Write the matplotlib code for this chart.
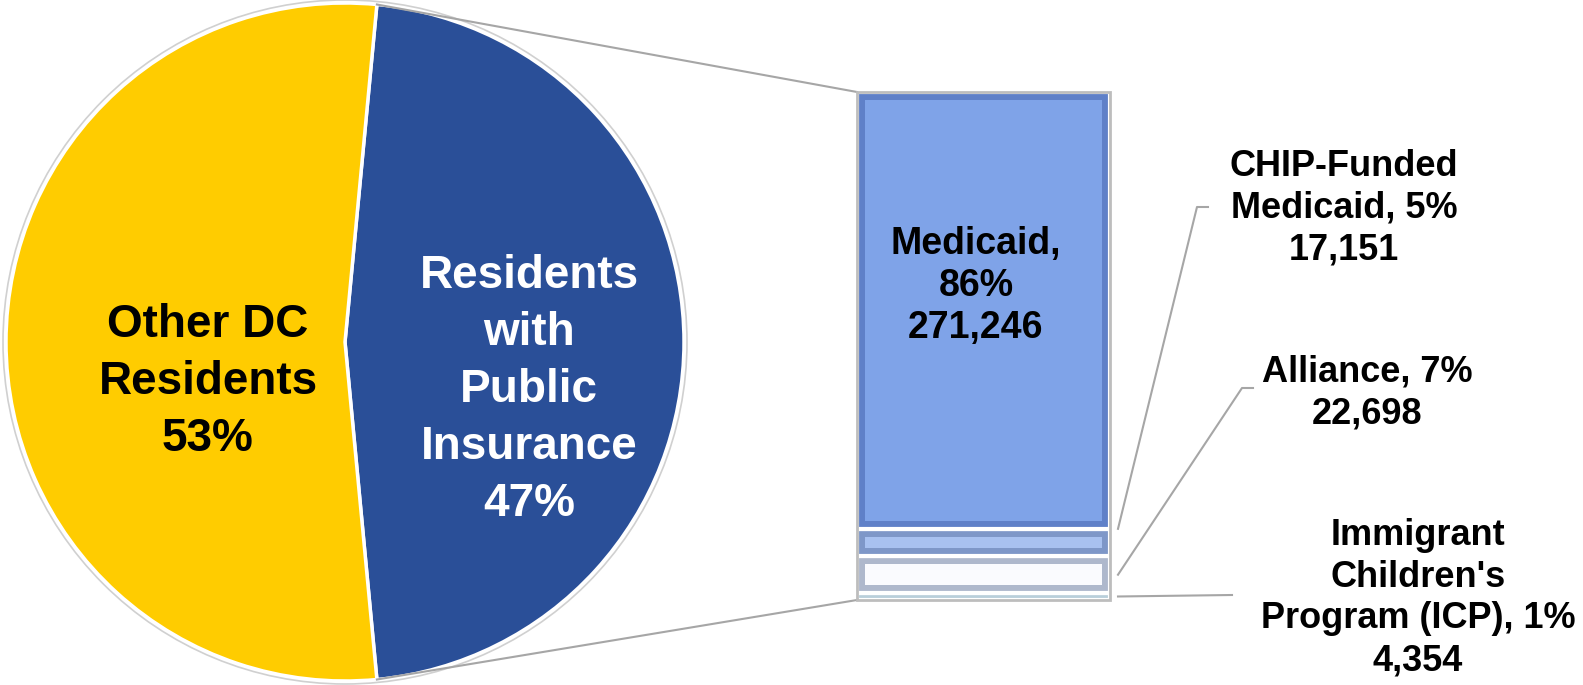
import matplotlib
matplotlib.use("Agg")
import matplotlib.pyplot as plt
from matplotlib.patches import Circle, Rectangle
import numpy as np

plt.rcParams['font.family'] = ['Liberation Sans', 'DejaVu Sans']
plt.rcParams['font.weight'] = 'bold'

#------ DATA ------#
pie_labels = ["Residents\nwith\nPublic\nInsurance\n47%", "Other DC\nResidents\n53%"]
pie_values = [47, 53]
pie_colors = ['#2A4F98', '#FFCC00']
pie_text_colors = ['white', 'black']

bar_names = ["Medicaid", "CHIP-Funded\nMedicaid", "Alliance", "Immigrant\nChildren's\nProgram (ICP)"]
bar_pcts = [86, 5, 7, 1]
bar_counts = [271246, 17151, 22698, 4354]
bar_colors = ['#7FA3E8', '#A8C1F0', '#FAFBFE', '#DDEFF6']
bevel_colors = ['#5F80C8', '#7E97C8', '#AEB8CC', '#B9CFDA']

W, H = 1583, 685
fig = plt.figure(figsize=(W / 100, H / 100), dpi=100)
ax = fig.add_axes([0, 0, 1, 1])

#------ PIE ------#
cx, cy, r = 345, 343, 339
half = 360 * pie_values[0] / sum(pie_values) / 2
wedges, _ = ax.pie(pie_values, colors=pie_colors, startangle=-half, center=(cx, cy), radius=r,
                   wedgeprops=dict(edgecolor='white', linewidth=2.5))
ax.add_patch(Circle((cx, cy), r + 3, fill=False, edgecolor='#D0D0D0', linewidth=1.2))
ax.set_xlim(0, W)
ax.set_ylim(0, H)
ax.set_aspect('auto')
ax.axis('off')

ax.text(529, H - 390, pie_labels[0], ha='center', va='center', fontsize=33, color=pie_text_colors[0],
        fontweight='bold', linespacing=1.38)
ax.text(208, H - 382, pie_labels[1], ha='center', va='center', fontsize=33, color=pie_text_colors[1],
        fontweight='bold', linespacing=1.38)

#------ BAR ------#
bx = fig.add_axes([857 / W, (H - 600) / H, 253 / W, 508 / H])
order = list(range(len(bar_counts)))[::-1]  # stack from bottom: ICP first
total = sum(bar_counts)
px_y = total / 508.0   # data units per pixel (vertical)
px_x = 1 / 253.0
bottom = 0
seg = {}
for i in order:
    bx.bar(0, bar_counts[i], bottom=bottom, width=1, color=bevel_colors[i], edgecolor='white', linewidth=3)
    ins = min(8, bar_counts[i] / px_y / 2 - 3)
    if ins > 1:
        bx.bar(0, bar_counts[i] - 2 * ins * px_y, bottom=bottom + ins * px_y, width=1 - 2 * 8 * px_x,
               color=bar_colors[i], edgecolor='none')
    seg[i] = (bottom, bottom + bar_counts[i])
    bottom += bar_counts[i]
bx.set_xlim(-0.5, 0.5)
bx.set_ylim(0, bottom)
bx.axis('off')
bx.add_patch(Rectangle((-0.5, 0), 1, bottom, fill=False, edgecolor='#BDBDBD', linewidth=2, clip_on=False))

def to_main(x, y):
    p = bx.transData.transform((x, y))
    return ax.transData.inverted().transform(p)

# connector lines pie -> bar
th = np.deg2rad(half)
top_pt = (cx + r * np.cos(th), cy + r * np.sin(th))
bot_pt = (cx + r * np.cos(-th), cy + r * np.sin(-th))
tl = to_main(-0.5, bottom)
bl = to_main(-0.5, 0)
ax.plot([top_pt[0], tl[0]], [top_pt[1], tl[1]], color='#A6A6A6', lw=1.5)
ax.plot([bot_pt[0], bl[0]], [bot_pt[1], bl[1]], color='#A6A6A6', lw=1.5)

# Medicaid label inside bar (drawn with the bar axes so it sits on top)
bx.text(976, H - 286, f"{bar_names[0]},\n{bar_pcts[0]}%\n{bar_counts[0]:,}", ha='center', va='center',
        fontsize=27, fontweight='bold', linespacing=1.2, transform=ax.transData)

# outside labels with leader lines
label_pos = {1: (1344, 208), 2: (1367, 393), 3: (1418, 598)}
attach = {1: seg[1][1], 2: (seg[2][0] + seg[2][1]) / 2, 3: (seg[3][0] + seg[3][1]) / 2}
leaders = {1: [(1197, 207), (1208, 207)], 2: [(1242, 388), (1253, 388)], 3: [(1232, 595)]}
for i in (1, 2, 3):
    x, y = label_pos[i]
    txt = f"{bar_names[i]}, {bar_pcts[i]}%\n{bar_counts[i]:,}"
    ax.text(x, H - y, txt, ha='center', va='center', fontsize=26, fontweight='bold', linespacing=1.25)
    sx, sy = to_main(0.5, attach[i])
    pts = [(sx + 8, sy)] + [(px, H - py) for px, py in leaders[i]]
    ax.plot([p[0] for p in pts], [p[1] for p in pts], color='#A6A6A6', lw=1.5)

plt.savefig('out.png', dpi=100)
